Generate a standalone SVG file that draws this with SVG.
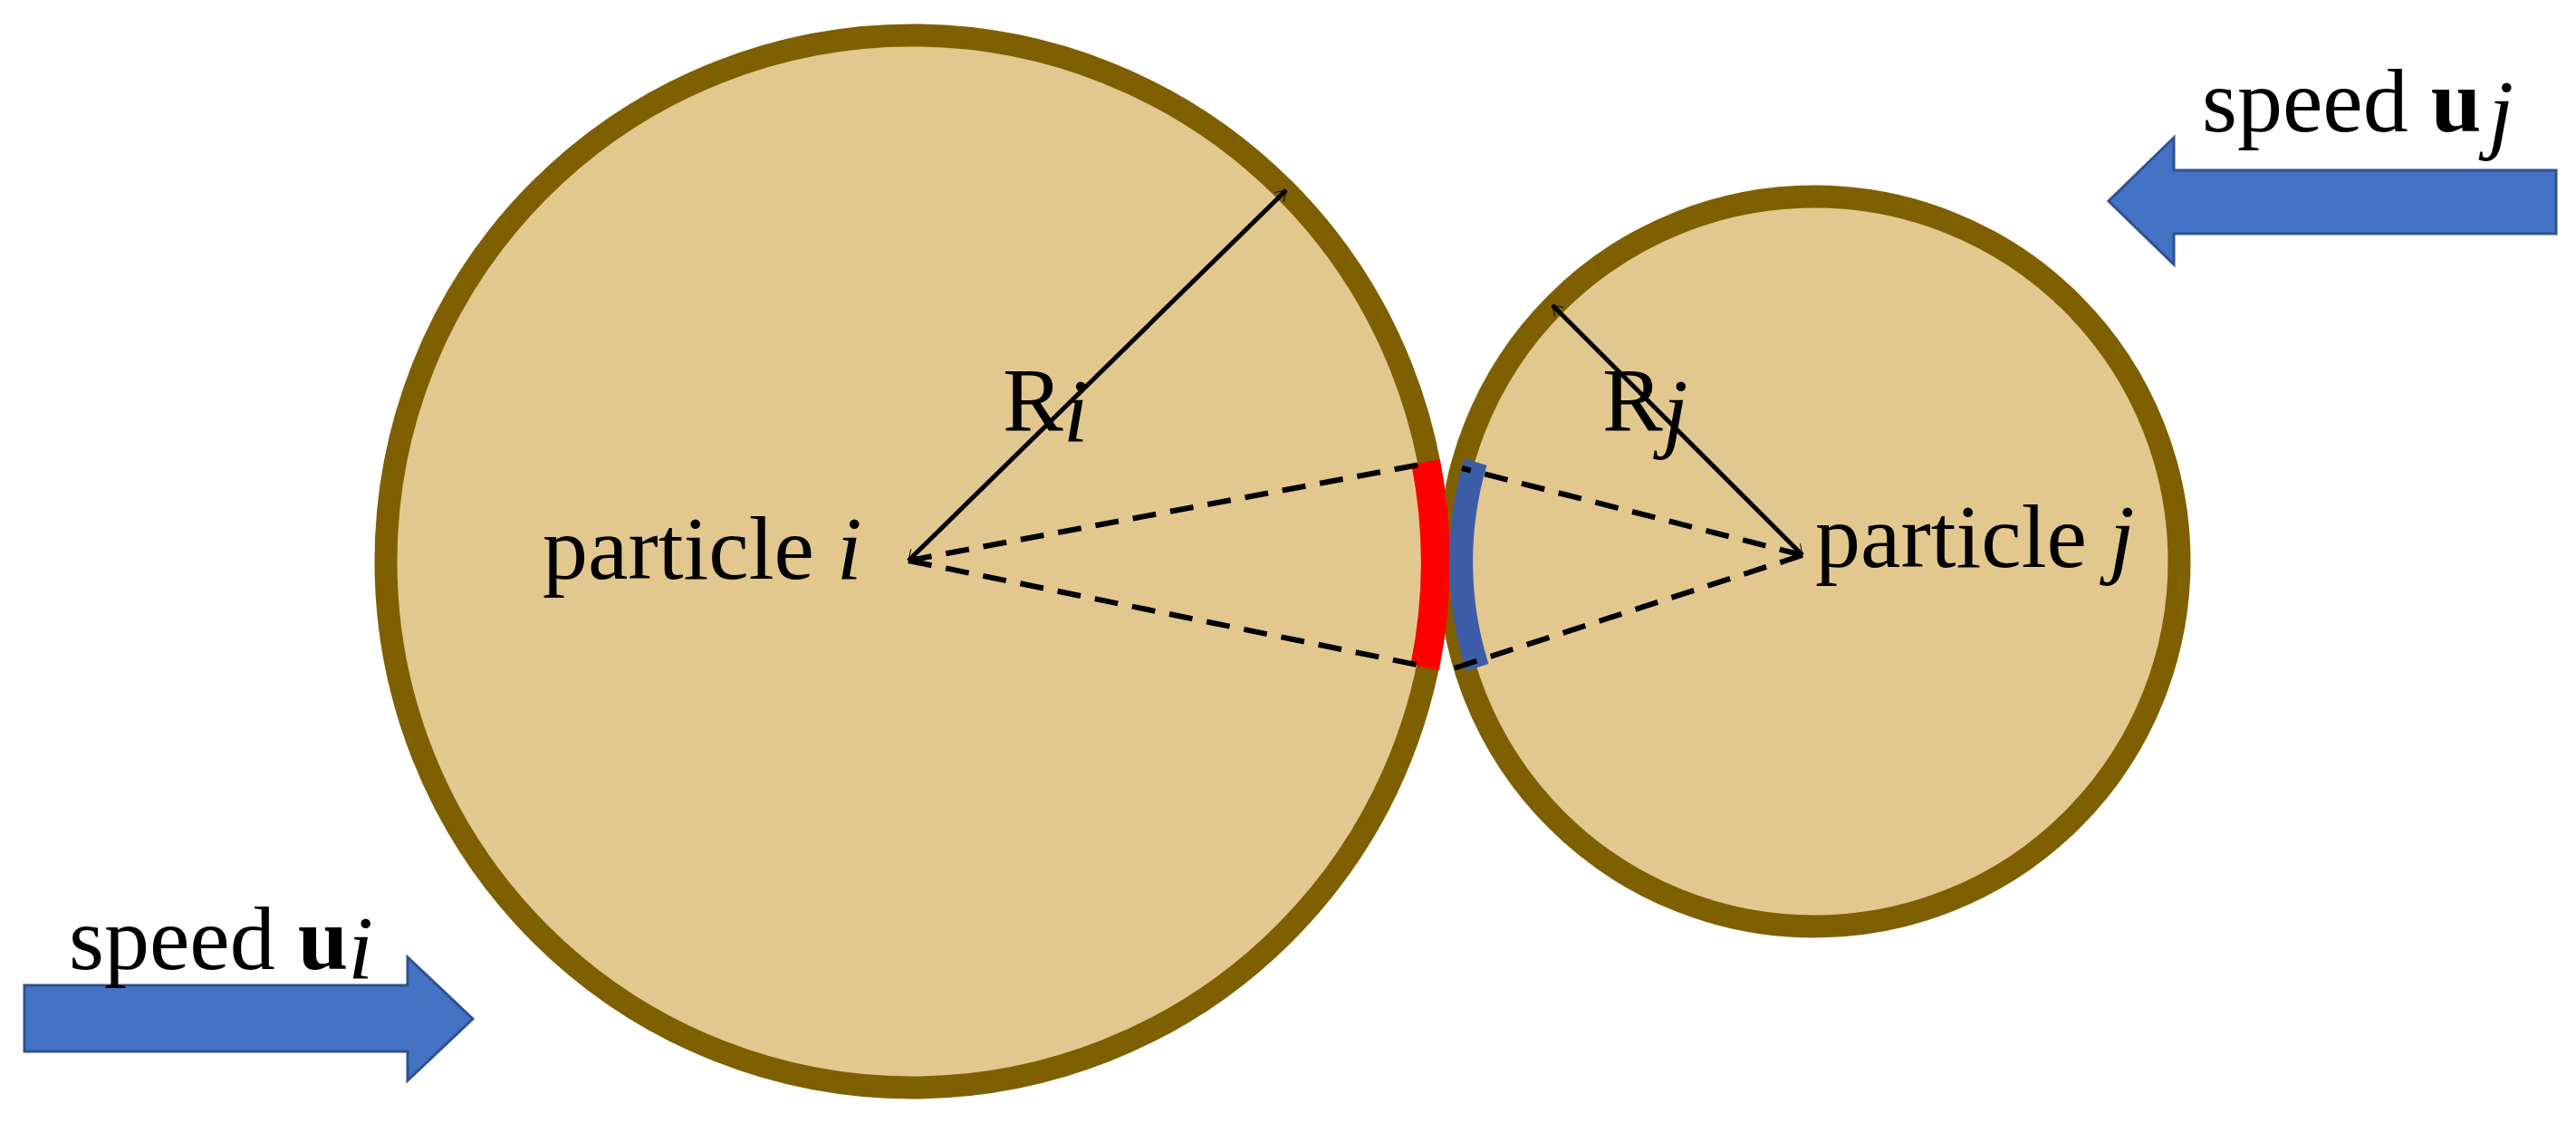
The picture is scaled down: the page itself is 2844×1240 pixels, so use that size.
<svg xmlns="http://www.w3.org/2000/svg" width="2844" height="1240" viewBox="0 0 2844 1240">
<style>
.p{fill:#E2C88F;stroke:#7F6000;stroke-width:25}
.t{font-family:"Liberation Serif","Times New Roman",serif;font-size:100px;fill:#000}
.dash{stroke:#000;stroke-width:6;stroke-dasharray:26 16;fill:none}
.rad{stroke:#000;stroke-width:5;fill:none;marker-start:url(#ah);marker-end:url(#ah)}
.big{fill:#4472C4;stroke:#2F528F;stroke-width:3}
</style>
<defs>
<marker id="ah" viewBox="0 0 10 10" refX="9.5" refY="5" markerWidth="8" markerHeight="8" markerUnits="userSpaceOnUse" orient="auto-start-reverse" overflow="visible">
<path d="M-4,-4 L9.5,5 L-4,14" fill="none" stroke="#000" stroke-width="1.2"/>
</marker>
</defs>
<rect width="2844" height="1240" fill="#fff"/>
<g id="particle-i"><circle class="p" cx="1007" cy="620" r="581"/></g>
<g id="particle-j"><circle class="p" cx="2003" cy="620" r="403"/></g>
<g id="contact">
<path d="M1574,510 A578,578 0 0 1 1573,737" fill="none" stroke="#FF0000" stroke-width="32"/>
<path d="M1629,510 A390,390 0 0 0 1631,737" fill="none" stroke="#3C5DA8" stroke-width="26"/>
</g>
<g id="connectors">
<path class="dash" d="M1003,619 L1573,512 M1003,619 L1569,735 M1990,613 L1614,517 M1990,613 L1605,738"/>
<line class="rad" x1="1003" y1="619" x2="1420" y2="210"/>
<line class="rad" x1="1990" y1="613" x2="1714" y2="337"/>
</g>
<g id="arrow-i"><polygon class="big" points="27,1088 450,1088 450,1057 522,1125 450,1193 450,1161 27,1161"/></g>
<g id="arrow-j"><polygon class="big" points="2822,188 2400,188 2400,152 2328,222 2400,292 2400,258 2822,258"/></g>
<g id="labels">
<text class="t" x="599" y="639">particle <tspan font-style="italic">i</tspan></text>
<text class="t" x="2004" y="626">particle <tspan font-style="italic">j</tspan></text>
<text class="t" x="1107" y="475">R<tspan font-style="italic" dy="12">i</tspan></text>
<text class="t" x="1769" y="475">R<tspan font-style="italic" dy="12">j</tspan></text>
<text class="t" x="76" y="1070">speed <tspan font-weight="bold">u</tspan><tspan font-style="italic" dy="10">i</tspan></text>
<text class="t" x="2431" y="145">speed <tspan font-weight="bold">u</tspan><tspan font-style="italic" dy="12" dx="8">j</tspan></text>
</g>
</svg>
